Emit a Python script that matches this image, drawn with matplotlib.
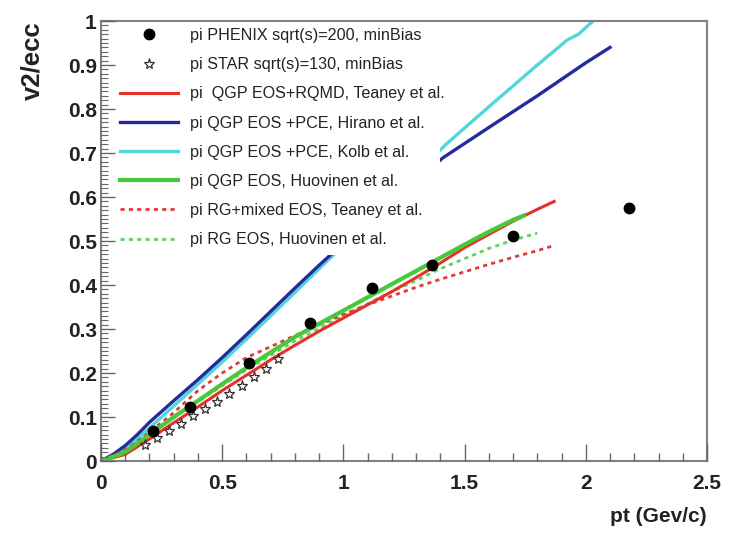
import matplotlib
matplotlib.use("Agg")
import matplotlib.pyplot as plt
from matplotlib.patches import Rectangle
from matplotlib.lines import Line2D
from matplotlib.ticker import MultipleLocator

plt.rcParams['font.family'] = ['Liberation Sans', 'DejaVu Sans']

# ---- data ----
phenix_pt = [0.215, 0.368, 0.61, 0.864, 1.116, 1.364, 1.70, 2.18]
phenix_v = [0.068, 0.123, 0.223, 0.314, 0.393, 0.445, 0.511, 0.575]
phenix_err = [0.005, 0.005, 0.006, 0.006, 0.007, 0.008, 0.009, 0.012]

star_pt = [0.18, 0.23, 0.28, 0.33, 0.38, 0.43, 0.48, 0.53, 0.58, 0.63, 0.68, 0.73]
star_v = [0.036, 0.052, 0.068, 0.085, 0.102, 0.118, 0.135, 0.152, 0.170, 0.190, 0.210, 0.232]

teaney_qgp_pt = [0, 0.1, 0.2, 0.3, 0.4, 0.5, 0.6, 0.7, 0.8, 0.9, 1.0, 1.1, 1.2, 1.3, 1.4, 1.5, 1.6, 1.7, 1.8, 1.87]
teaney_qgp_v = [0, 0.015, 0.05, 0.087, 0.123, 0.16, 0.195, 0.23, 0.263, 0.295, 0.325, 0.355, 0.385, 0.417, 0.45, 0.485, 0.515, 0.545, 0.572, 0.59]

hirano_pt = [0, 0.05, 0.1, 0.15, 0.2, 0.3, 0.4, 0.5, 0.6, 0.7, 0.8, 0.9, 1.0, 1.1, 1.2, 1.3, 1.413, 1.6, 1.8, 2.0, 2.1]
hirano_v = [0, 0.015, 0.035, 0.06, 0.088, 0.137, 0.185, 0.235, 0.287, 0.34, 0.393, 0.445, 0.495, 0.54, 0.59, 0.64, 0.69, 0.758, 0.83, 0.905, 0.94]

kolb_pt = [0, 0.1, 0.2, 0.3, 0.4, 0.5, 0.6, 0.7, 0.8, 0.9, 1.0, 1.2, 1.43, 1.6, 1.8, 1.924, 1.97, 2.03, 2.06]
kolb_v = [0, 0.025, 0.075, 0.125, 0.175, 0.225, 0.277, 0.33, 0.383, 0.437, 0.49, 0.6, 0.723, 0.805, 0.90, 0.957, 0.97, 1.0, 1.01]

huov_qgp_pt = [0, 0.1, 0.2, 0.3, 0.4, 0.5, 0.6, 0.7, 0.8, 0.9, 1.0, 1.1, 1.2, 1.3, 1.4, 1.5, 1.6, 1.7, 1.745]
huov_qgp_v = [0, 0.02, 0.06, 0.1, 0.137, 0.175, 0.212, 0.247, 0.282, 0.312, 0.342, 0.372, 0.402, 0.432, 0.462, 0.492, 0.521, 0.548, 0.558]

teaney_rg_pt = [0, 0.1, 0.2, 0.3, 0.4, 0.5, 0.6, 0.7, 0.8, 0.9, 1.0, 1.1, 1.2, 1.3, 1.4, 1.5, 1.6, 1.7, 1.8, 1.87]
teaney_rg_v = [0, 0.025, 0.065, 0.11, 0.16, 0.2, 0.235, 0.26, 0.285, 0.31, 0.333, 0.355, 0.375, 0.395, 0.413, 0.43, 0.447, 0.463, 0.478, 0.49]

huov_rg_pt = [0, 0.2, 0.4, 0.6, 0.8, 1.0, 1.2, 1.3, 1.4, 1.5, 1.6, 1.7, 1.8]
huov_rg_v = [0, 0.06, 0.135, 0.207, 0.273, 0.33, 0.385, 0.41, 0.437, 0.46, 0.483, 0.502, 0.518]

labels = [
    "pi PHENIX sqrt(s)=200, minBias",
    "pi STAR sqrt(s)=130, minBias",
    "pi  QGP EOS+RQMD, Teaney et al.",
    "pi QGP EOS +PCE, Hirano et al.",
    "pi QGP EOS +PCE, Kolb et al.",
    "pi QGP EOS, Huovinen et al.",
    "pi RG+mixed EOS, Teaney et al.",
    "pi RG EOS, Huovinen et al.",
]

fig = plt.figure(figsize=(7.34, 5.36), dpi=100)
ax = fig.add_axes([0.1376, 0.1399, 0.8256, 0.8209])

frame_col = '#808080'
for s in ax.spines.values():
    s.set_color(frame_col)
    s.set_linewidth(1.5)
    s.set_zorder(6)
ax.xaxis.set_zorder(6)
ax.yaxis.set_zorder(6)

h_red, = ax.plot(teaney_qgp_pt, teaney_qgp_v, color='#e8302a', lw=2.2, zorder=2)
h_blue, = ax.plot(hirano_pt, hirano_v, color='#232c9c', lw=2.4, zorder=2)
h_cyan, = ax.plot(kolb_pt, kolb_v, color='#52d6dc', lw=2.4, zorder=1.9)
h_green, = ax.plot(huov_qgp_pt, huov_qgp_v, color='#47c93a', lw=3.0, zorder=2.1)
h_rdash, = ax.plot(teaney_rg_pt, teaney_rg_v, color='#e03a3a', lw=2.0,
                   linestyle=(0, (1.5, 1.5)), zorder=2)
h_gdash, = ax.plot(huov_rg_pt, huov_rg_v, color='#5fd45f', lw=2.0,
                   linestyle=(0, (1.5, 1.5)), zorder=1.8)

h_star, = ax.plot(star_pt, star_v, linestyle='none', marker='*', markersize=8,
                  markerfacecolor='none', markeredgecolor='#333333', markeredgewidth=0.9, zorder=2.5)
ax.errorbar(phenix_pt, phenix_v, yerr=phenix_err, fmt='o', color='black',
            markersize=7.5, elinewidth=1.2, capsize=0, zorder=2.6)
h_phx = Line2D([], [], linestyle='none', marker='o', color='black', markersize=7.5)

# white legend box covering curves
ax.add_patch(Rectangle((0.0, 0.468), 0.56, 0.532, transform=ax.transAxes,
                       facecolor='white', edgecolor='none', zorder=3))

leg = ax.legend([h_phx, h_star, h_red, h_blue, h_cyan, h_green, h_rdash, h_gdash], labels,
                loc='upper left', bbox_to_anchor=(0.024, 0.995), frameon=False,
                fontsize=11.6, handlelength=3.6, handletextpad=0.75, labelspacing=0.88,
                borderpad=0.3, borderaxespad=0.0)
leg.set_zorder(4)
for t in leg.get_texts():
    t.set_color('#222222')

ax.set_xlim(0, 2.5)
ax.set_ylim(0, 1)
ax.xaxis.set_major_locator(MultipleLocator(0.5))
ax.xaxis.set_minor_locator(MultipleLocator(0.1))
ax.yaxis.set_major_locator(MultipleLocator(0.1))
ax.yaxis.set_minor_locator(MultipleLocator(0.01))
ax.tick_params(axis='both', which='both', direction='in', color='#666666', top=False, right=False)
ax.tick_params(axis='x', which='major', length=12, width=1.0, pad=9)
ax.tick_params(axis='x', which='minor', length=6, width=1.0)
ax.tick_params(axis='y', which='major', length=10, width=1.0, pad=3)
ax.tick_params(axis='y', which='minor', length=5, width=0.8)

ax.set_xticks([0, 0.5, 1, 1.5, 2, 2.5])
ax.set_xticklabels(['0', '0.5', '1', '1.5', '2', '2.5'])
ax.set_yticks([0, 0.1, 0.2, 0.3, 0.4, 0.5, 0.6, 0.7, 0.8, 0.9, 1.0])
ax.set_yticklabels(['0', '0.1', '0.2', '0.3', '0.4', '0.5', '0.6', '0.7', '0.8', '0.9', '1'])
for lab in ax.get_xticklabels() + ax.get_yticklabels():
    lab.set_fontsize(15)
    lab.set_fontweight('bold')
    lab.set_color('#222222')

ax.set_xlabel('pt (Gev/c)', fontsize=15, fontweight='bold', color='#222222', loc='right')
ax.set_ylabel('v2/ecc', fontsize=18.5, fontweight='bold', color='#222222', loc='top')
ax.xaxis.set_label_coords(1.0, -0.105)
ax.yaxis.set_label_coords(-0.093, 1.0)

fig.savefig('out.png', dpi=100, facecolor='white')
